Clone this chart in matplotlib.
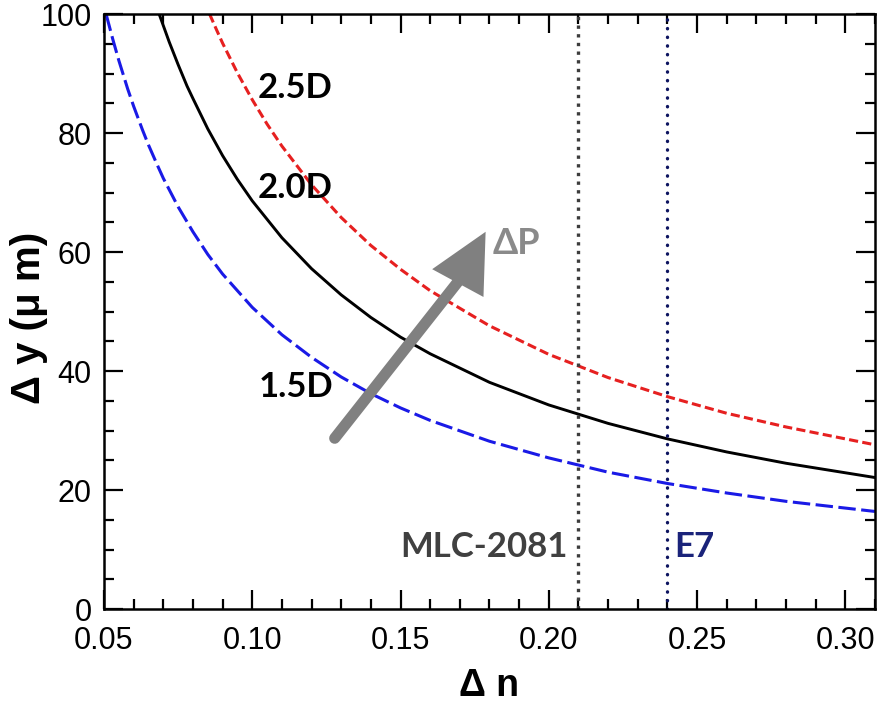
import numpy as np
import matplotlib
matplotlib.use('Agg')
import matplotlib.pyplot as plt
from matplotlib.ticker import MultipleLocator

plt.rcParams['font.family'] = ['Liberation Sans', 'DejaVu Sans']

## values (dn vs dy in um)
dn_15 = [0.0507, 0.053, 0.055, 0.058, 0.06, 0.063, 0.065, 0.068, 0.07, 0.075, 0.08, 0.085, 0.09,
         0.10, 0.11, 0.12, 0.13, 0.14, 0.15, 0.16, 0.18, 0.20, 0.22, 0.24, 0.26, 0.28, 0.31]
dy_15 = [100.0, 95.7, 92.2, 87.4, 84.5, 80.5, 78.0, 74.6, 72.4, 67.6, 63.4, 59.6, 56.3,
         50.7, 46.1, 42.3, 39.0, 36.2, 33.8, 31.7, 28.2, 25.4, 23.0, 21.1, 19.5, 18.1, 16.4]

dn_20 = [0.0686, 0.072, 0.075, 0.078, 0.08, 0.085, 0.09, 0.095, 0.10, 0.11, 0.12, 0.13, 0.14,
         0.15, 0.16, 0.18, 0.20, 0.22, 0.24, 0.26, 0.28, 0.31]
dy_20 = [100.0, 95.3, 91.5, 87.9, 85.8, 80.7, 76.2, 72.2, 68.6, 62.4, 57.2, 52.8, 49.0,
         45.7, 42.9, 38.1, 34.3, 31.2, 28.6, 26.4, 24.5, 22.1]

dn_25 = [0.0856, 0.088, 0.09, 0.095, 0.10, 0.105, 0.11, 0.12, 0.13, 0.14, 0.15, 0.16, 0.18,
         0.20, 0.22, 0.24, 0.26, 0.28, 0.31]
dy_25 = [100.0, 97.3, 95.1, 90.1, 85.6, 81.5, 77.8, 71.3, 65.8, 61.1, 57.1, 53.5, 47.6,
         42.8, 38.9, 35.7, 32.9, 30.6, 27.6]

lc_names = ['MLC-2081', 'E7']
lc_dn = [0.21, 0.24]
lc_colors = ['#3c3c3c', '#0d1460']

fig = plt.figure(figsize=(8.79, 7.04), dpi=100)
ax = fig.add_axes([0.1183, 0.1349, 0.8771, 0.8452])

ax.plot(dn_15, dy_15, color='#1a1ae6', lw=2.2, dashes=(5.7, 1.8))
ax.plot(dn_20, dy_20, color='black', lw=2.1)
ax.plot(dn_25, dy_25, color='#e62020', lw=2.2, dashes=(3, 1.4))

ax.axvline(lc_dn[0], color=lc_colors[0], lw=2.4, ls=(0, (1, 1.6)))
ax.axvline(lc_dn[1], color=lc_colors[1], lw=2.4, ls=(0, (0.1, 2.5)), dash_capstyle='round')

ax.set_xlim(0.05, 0.31)
ax.set_ylim(0, 100)

## labels on the curves
lab_font = dict(family=['Lato', 'DejaVu Sans'], fontweight='bold', fontsize=25)
ax.text(0.1019, 87.6, '2.5D', ha='left', va='center', color='black', **lab_font)
ax.text(0.1019, 70.8, '2.0D', ha='left', va='center', color='black', **lab_font)
ax.text(0.1022, 37.3, '1.5D', ha='left', va='center', color='black', **lab_font)
ax.text(0.2063, 10.4, lc_names[0], ha='right', va='center', color='#404040', **lab_font)
ax.text(0.2424, 10.4, lc_names[1], ha='left', va='center', color='#1a237a', **lab_font)

## power arrow: round-capped shaft plus a filled head
tail = (0.1278, 28.7)
tip = (0.1787, 63.4)
base = (0.1700, 55.4)
ax.plot([tail[0], base[0]], [tail[1], base[1]], color='#808080', lw=8, solid_capstyle='round')
ax.annotate('', xy=tip, xytext=base,
            arrowprops=dict(arrowstyle='-|>,head_length=2.1,head_width=1.05', mutation_scale=20,
                            lw=0, fc='#808080', ec='none', shrinkA=0, shrinkB=0))
ax.text(0.1812, 61.4, '\u0394P', ha='left', va='center', color='#8a8a8a',
        family=['Lato', 'DejaVu Sans'], fontweight='bold', fontsize=26)

ax.xaxis.set_major_locator(MultipleLocator(0.05))
ax.xaxis.set_minor_locator(MultipleLocator(0.01))
ax.yaxis.set_major_locator(MultipleLocator(20))
ax.yaxis.set_minor_locator(MultipleLocator(5))
ax.tick_params(which='both', direction='in', top=True, right=True, width=1.6, labelsize=22)
ax.tick_params(which='major', length=14)
ax.tick_params(which='minor', length=7)
ax.tick_params(axis='x', pad=12)
ax.tick_params(axis='y', pad=9)
ax.set_xticklabels(['%.2f' % v for v in ax.get_xticks()])
for s in ax.spines.values():
	s.set_linewidth(1.8)

ax.set_xlabel('\u0394 n', fontsize=27, fontweight='bold', va='baseline')
ax.xaxis.set_label_coords(0.5, -0.147)
ax.set_ylabel('\u0394 y (\u03bc m)', fontsize=29, fontweight='bold')
ax.yaxis.set_label_coords(-0.072, 0.49)

fig.savefig('out.png', dpi=100)
